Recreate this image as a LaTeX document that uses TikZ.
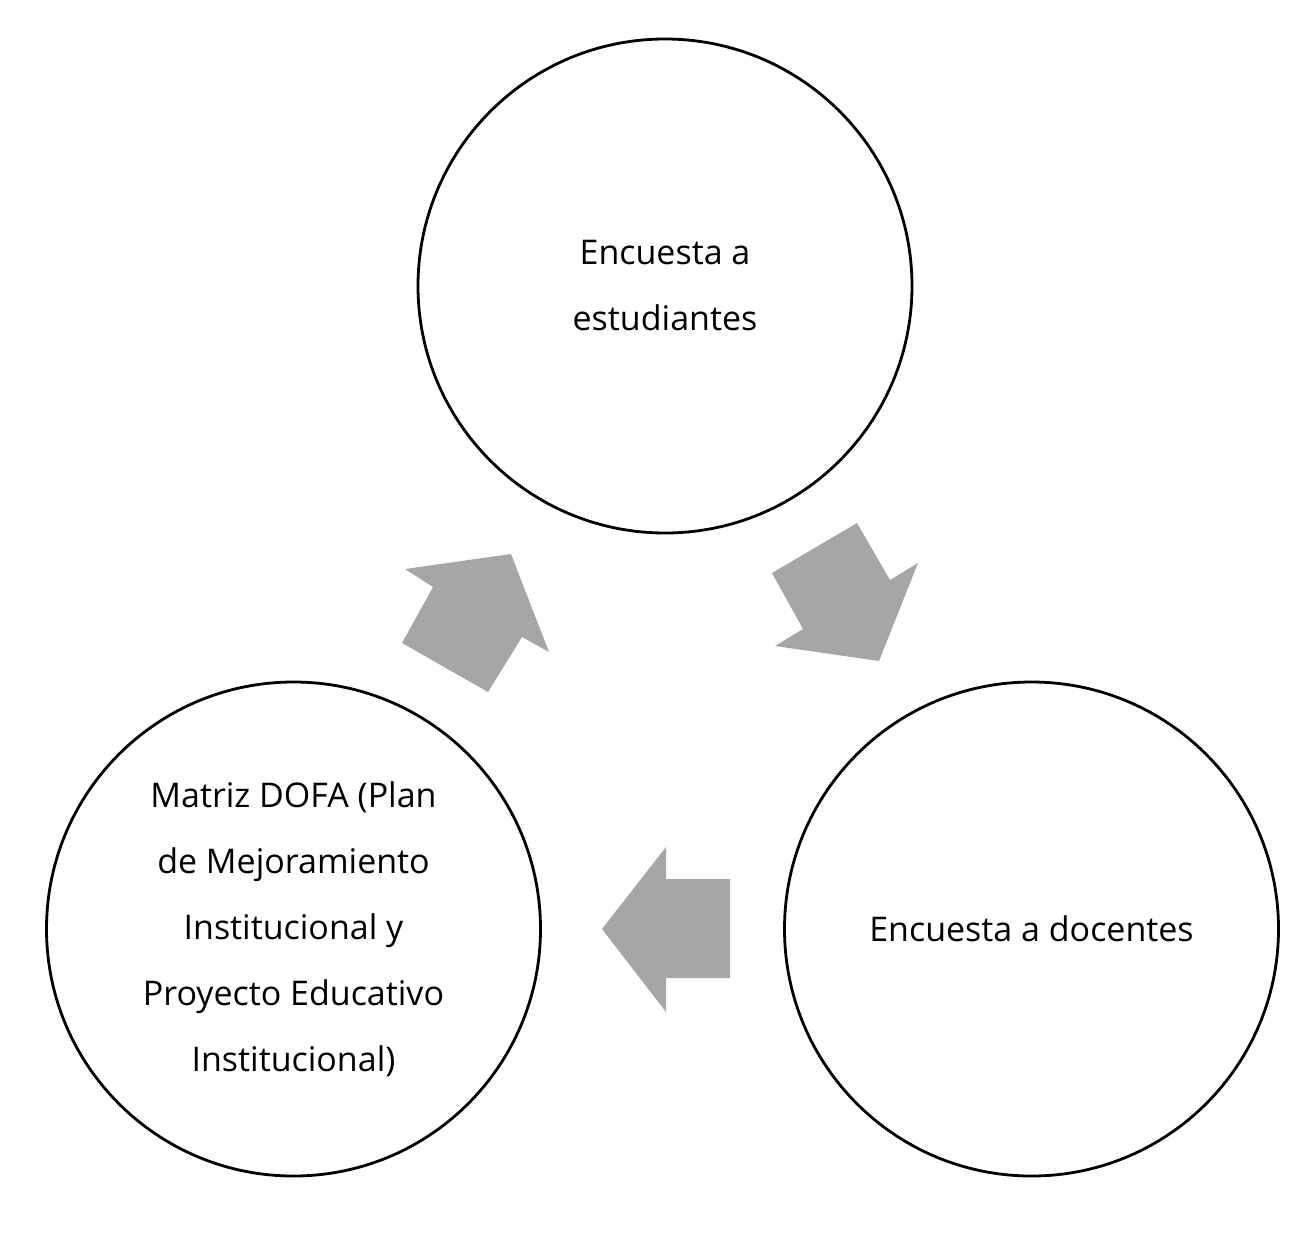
\documentclass[tikz,border=0pt]{standalone}
\usepackage{fontspec}
\setmainfont{Open Sans}
\begin{document}
\begin{tikzpicture}[x=1pt,y=-1pt,
  stage/.style={circle,draw=black,line width=2.8pt,minimum size=494pt,inner sep=0pt,align=center,font=\fontsize{34}{66}\selectfont},
  blockarrow/.style={fill=arrowgray,draw=none}]
\definecolor{arrowgray}{HTML}{A6A6A6}
\useasboundingbox[fill=white] (0,0) rectangle (1308,1253);
\node[stage] (est) at (665,286) {Encuesta a\\estudiantes};
\node[stage] (dofa) at (293.5,929) {Matriz DOFA (Plan\\de Mejoramiento\\Institucional y\\Proyecto Educativo\\Institucional)};
\node[stage] (doc) at (1031.5,929) {Encuesta a docentes};
% arrow from DOFA to estudiantes
\fill[blockarrow] (405,569) -- (511,554) -- (549,652) -- (522,637) -- (488,692) -- (402,643) -- (433,587) -- cycle;
% arrow from estudiantes to docentes
\fill[blockarrow] (772,573) -- (857,523) -- (890,580) -- (918,563) -- (879,661) -- (775,646) -- (803,629) -- cycle;
% arrow from docentes to DOFA
\fill[blockarrow] (602,929) -- (666,847) -- (666,879) -- (730,879) -- (730,978) -- (666,978) -- (666,1012) -- cycle;
\end{tikzpicture}
\end{document}
